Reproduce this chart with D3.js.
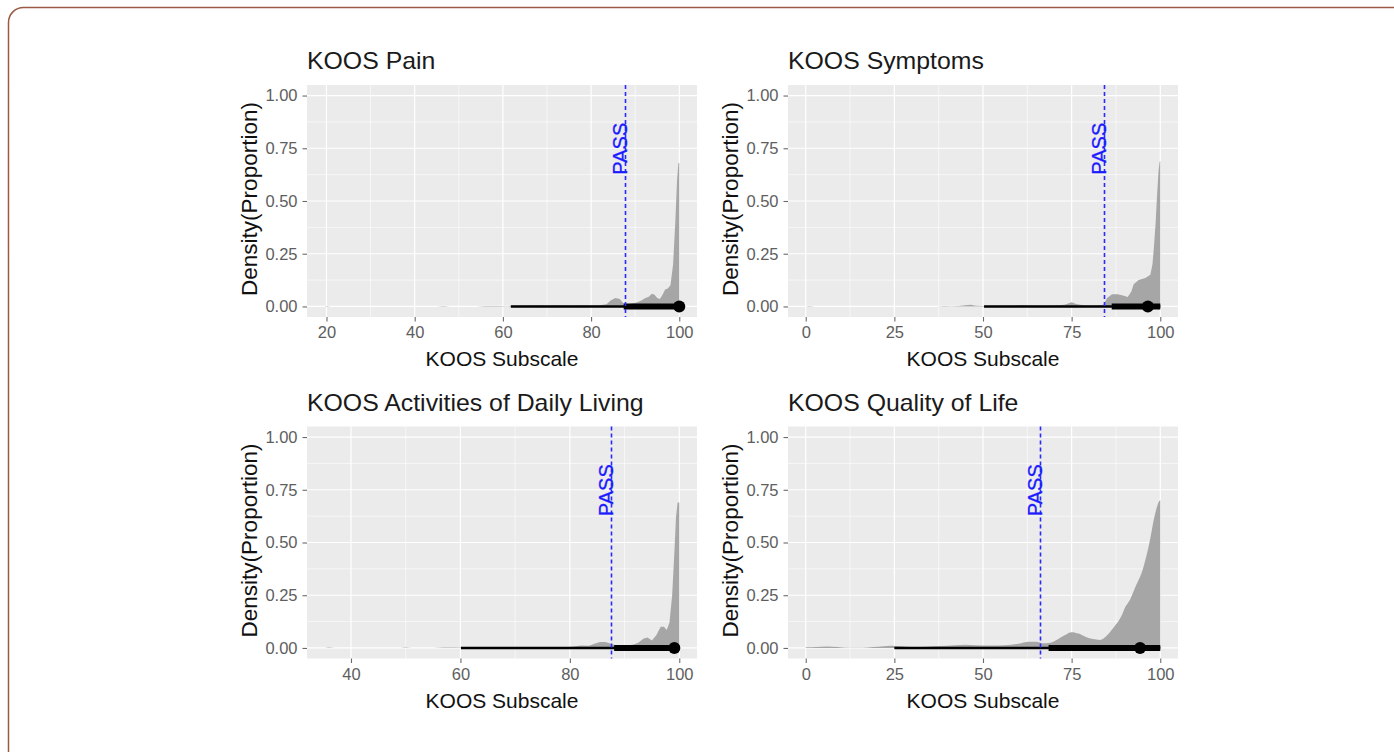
<!DOCTYPE html>
<html>
<head>
<meta charset="utf-8">
<script src="https://cdn.jsdelivr.net/npm/d3@7"></script>
<style>
  body { margin: 0; background: #fff; }
  svg { display: block; font-family: "Liberation Sans", Arial, sans-serif; }
</style>
</head>
<body>
<script>
// panel titles and x-axis setup
var titles = ["KOOS Pain", "KOOS Symptoms", "KOOS Activities of Daily Living", "KOOS Quality of Life"]
var dataMin = [19.6, 0, 35.2, 0]
var dataMax = [100, 100, 100, 100]
var xTicks = [[20, 40, 60, 80, 100], [0, 25, 50, 75, 100], [40, 60, 80, 100], [0, 25, 50, 75, 100]]
var yTicks = [0, 0.25, 0.5, 0.75, 1]

// PASS thresholds
var passValues = [87.6, 84.0, 87.6, 66.0]

// point + interval (95% thin, 66% thick, median point)
var thinLo = [61.8, 50.3, 60.1, 25.0]
var thinHi = [100, 100, 100, 100]
var thickLo = [87.4, 86.3, 88.1, 68.5]
var thickHi = [100, 100, 100, 100]
var medians = [100, 96.5, 99.1, 94.3]

// density curves [score, density]
var densPain = [[19.6,0],[20,0.002],[21,0],[45,0],[46.5,0.002],[48,0],[54,0],[56,0.002],[59,0.002],[61,0.001],
  [62,0.003],[65,0.004],[68,0.006],[70,0.005],[72,0.006],[75,0.005],[78,0.006],[80,0.005],[82,0.006],[83.5,0.01],
  [84.5,0.03],[85.5,0.04],[86.5,0.035],[87.3,0.015],[88.3,0.01],[89.5,0.015],[90.5,0.02],[91.5,0.03],[92.3,0.04],
  [93,0.045],[93.8,0.06],[94.4,0.055],[95,0.04],[95.6,0.035],[96.2,0.055],[96.8,0.08],[97.4,0.085],[98,0.1],
  [98.6,0.2],[99.1,0.4],[99.5,0.6],[99.8,0.68],[100,0.68]]
var densSymptoms = [[0,0],[1,0.002],[2.5,0],[37,0],[39,0.002],[41,0.001],[43,0.002],[45,0.006],[46.5,0.008],[48,0.003],
  [50,0.002],[53,0.003],[56,0.003],[59,0.004],[61,0.007],[63,0.004],[66,0.003],[70,0.004],[73,0.008],[75,0.02],
  [76.5,0.01],[79,0.004],[82,0.005],[84,0.008],[85,0.04],[86.4,0.058],[88,0.058],[89.5,0.052],[90.8,0.045],
  [91.8,0.07],[92.5,0.105],[93.9,0.125],[95.8,0.135],[97.2,0.15],[97.8,0.2],[98.2,0.28],[98.7,0.4],[99.1,0.53],
  [99.5,0.64],[99.8,0.685],[100,0.69]]
var densADL = [[35.2,0],[36,0.002],[37,0],[49,0],[50,0.002],[51,0],[55,0],[57,0.002],[59,0.002],[60.5,0.001],
  [62,0.002],[70,0.002],[78,0.003],[80.5,0.006],[82,0.012],[83.5,0.01],[84.5,0.02],[85.5,0.028],[86.5,0.028],
  [87.5,0.02],[88.5,0.012],[90,0.012],[91.5,0.015],[92.5,0.025],[93.5,0.045],[94.2,0.05],[95,0.035],[95.8,0.06],
  [96.6,0.1],[97.2,0.1],[97.7,0.085],[98.2,0.12],[98.7,0.25],[99.1,0.45],[99.4,0.62],[99.7,0.69],[100,0.69]]
var densQOL = [[0,0.003],[3,0.005],[6,0.007],[9,0.004],[12,0.001],[16,0.001],[19,0.004],[22,0.008],[24,0.011],
  [27,0.008],[30,0.005],[34,0.006],[38,0.009],[42,0.013],[45,0.015],[48,0.013],[52,0.012],[56,0.013],[60,0.02],
  [63,0.03],[65,0.03],[67,0.022],[69,0.025],[71,0.04],[73,0.06],[75,0.075],[77,0.068],[79,0.052],[81,0.042],
  [83,0.038],[85,0.06],[87,0.1],[89,0.15],[90,0.19],[91.5,0.23],[93,0.29],[95,0.37],[96.7,0.48],[98.6,0.64],
  [99.5,0.69],[100,0.7]]
var densities = [densPain, densSymptoms, densADL, densQOL]

// layout
var W = 1394, H = 752
var colX = [307, 788]
var rowY = [85, 426.5]
var pw = 390, ph = 232

var svg = d3.select("body").append("svg")
  .attr("width", W)
  .attr("height", H)

// outer frame
svg.append("rect")
  .attr("x", 8.5).attr("y", 7.5)
  .attr("width", 1400).attr("height", 800)
  .attr("rx", 15).attr("ry", 15)
  .attr("fill", "none")
  .attr("stroke", "#9a5a44")
  .attr("stroke-width", 1.5)

var y = d3.scaleLinear().domain([-0.05, 1.05]).range([ph, 0])

for (var i = 0; i < 4; i++) {
  drawPanel(i)
}

function drawPanel(i) {
  var px = colX[i % 2], py = rowY[Math.floor(i / 2)]
  var span = dataMax[i] - dataMin[i]
  var x = d3.scaleLinear()
    .domain([dataMin[i] - span * 0.05, dataMax[i] + span * 0.05])
    .range([0, pw])

  var g = svg.append("g").attr("transform", "translate(" + px + "," + py + ")")

  // background
  g.append("rect").attr("width", pw).attr("height", ph).attr("fill", "#ebebeb")

  // minor grid
  var xt = xTicks[i]
  var step = xt[1] - xt[0]
  var xMinor = []
  for (var k = xt[0] - step / 2; k <= x.domain()[1]; k += step) {
    if (k >= x.domain()[0]) xMinor.push(k)
  }
  var yMinor = [0.125, 0.375, 0.625, 0.875]
  g.selectAll(".xminor").data(xMinor).enter().append("line")
    .attr("x1", function(d){ return x(d) }).attr("x2", function(d){ return x(d) })
    .attr("y1", 0).attr("y2", ph)
    .attr("stroke", "#fff").attr("stroke-width", 0.6)
  g.selectAll(".yminor").data(yMinor).enter().append("line")
    .attr("x1", 0).attr("x2", pw)
    .attr("y1", function(d){ return y(d) }).attr("y2", function(d){ return y(d) })
    .attr("stroke", "#fff").attr("stroke-width", 0.6)

  // major grid
  g.selectAll(".xmajor").data(xt).enter().append("line")
    .attr("x1", function(d){ return x(d) }).attr("x2", function(d){ return x(d) })
    .attr("y1", 0).attr("y2", ph)
    .attr("stroke", "#fff").attr("stroke-width", 1.2)
  g.selectAll(".ymajor").data(yTicks).enter().append("line")
    .attr("x1", 0).attr("x2", pw)
    .attr("y1", function(d){ return y(d) }).attr("y2", function(d){ return y(d) })
    .attr("stroke", "#fff").attr("stroke-width", 1.2)

  // density
  var area = d3.area()
    .x(function(d){ return x(d[0]) })
    .y0(y(0))
    .y1(function(d){ return y(d[1]) })
    .curve(i == 3 ? d3.curveMonotoneX : d3.curveLinear)
  g.append("path").datum(densities[i])
    .attr("d", area)
    .attr("fill", "#a6a6a6")

  // interval + point
  g.append("line")
    .attr("x1", x(thinLo[i])).attr("x2", x(thinHi[i]))
    .attr("y1", y(0)).attr("y2", y(0))
    .attr("stroke", "#000").attr("stroke-width", 2.4)
  g.append("line")
    .attr("x1", x(thickLo[i])).attr("x2", x(thickHi[i]))
    .attr("y1", y(0)).attr("y2", y(0))
    .attr("stroke", "#000").attr("stroke-width", 6)
  g.append("circle")
    .attr("cx", x(medians[i])).attr("cy", y(0))
    .attr("r", 6).attr("fill", "#000")

  // PASS line (snapped to pixel so the blue stays crisp)
  var passX = Math.round(x(passValues[i])) + 0.5
  g.append("line")
    .attr("x1", passX).attr("x2", passX)
    .attr("y1", 0).attr("y2", ph)
    .attr("stroke", "#2a2aff").attr("stroke-width", 1.6)
    .attr("stroke-dasharray", "4,3")
  g.append("text")
    .attr("transform", "translate(" + (passX + 1) + "," + y(0.625) + ") rotate(-90)")
    .attr("fill", "#1a1aff")
    .attr("font-size", 20)
    .attr("stroke", "#1a1aff").attr("stroke-width", 0.3)
    .text("PASS")

  // axes
  var xAxis = g.append("g").attr("transform", "translate(0," + ph + ")")
    .call(d3.axisBottom(x).tickValues(xt).tickSize(4.5).tickPadding(5).tickFormat(d3.format("d")))
  var yAxis = g.append("g")
    .call(d3.axisLeft(y).tickValues(yTicks).tickSize(4.5).tickPadding(5).tickFormat(d3.format(".2f")))
  ;[xAxis, yAxis].forEach(function(a){
    a.select(".domain").remove()
    a.selectAll(".tick line").attr("stroke", "#6a6a6a").attr("stroke-width", 1.1)
    a.selectAll(".tick text").attr("fill", "#5e5e5e").attr("font-size", 16.5)
      .attr("font-family", "Liberation Sans, Arial, sans-serif")
  })

  // titles
  g.append("text")
    .attr("transform", "translate(0,-16) scale(1.08,1)")
    .attr("font-size", 23).attr("fill", "#1a1a1a")
    .text(titles[i])
  g.append("text")
    .attr("x", pw / 2).attr("y", ph + 49)
    .attr("text-anchor", "middle")
    .attr("font-size", 21).attr("fill", "#111")
    .text("KOOS Subscale")
  g.append("text")
    .attr("transform", "translate(-50," + (ph / 2 - 2) + ") rotate(-90)")
    .attr("text-anchor", "middle")
    .attr("font-size", 22.5).attr("fill", "#111")
    .text("Density(Proportion)")
}
</script>
</body>
</html>
